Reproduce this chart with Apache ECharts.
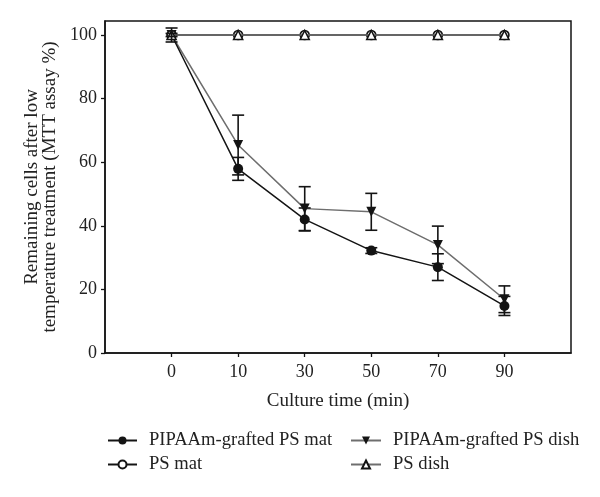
<!DOCTYPE html>
<html>
<head>
<meta charset="utf-8">
<script src="https://cdn.jsdelivr.net/npm/echarts@6/dist/echarts.min.js"></script>
<style>html,body{margin:0;padding:0;background:#fff}#c{width:600px;height:497px}</style>
</head>
<body>
<div id="c"></div>
<script>
var categories = [' ', '0', '10', '30', '50', '70', '90', '  '];
var times = ['0', '10', '30', '50', '70', '90'];
var yTicks = [0, 20, 40, 60, 80, 100];

var matGrafted = [100, 57.9, 42.0, 32.2, 27.0, 14.8];
var matGraftedErr = [2.2, 3.6, 3.6, 0.9, 4.2, 3.0];
var dishGrafted = [100, 65.4, 45.4, 44.4, 34.0, 16.9];
var dishGraftedErr = [0.5, 9.4, 6.9, 5.8, 5.9, 4.2];
var psMat = [100, 100, 100, 100, 100, 100];
var psDish = [100, 100, 100, 100, 100, 100];

var FONT = 'Liberation Serif';
var DARK = '#141414';
var GRAY = '#6e6e6e';
var TXT = '#222';

function pts(vals) {
  return times.map(function (t, i) { return [t, vals[i]]; });
}
function errPts(vals, errs) {
  return times.map(function (t, i) {
    return [categories.indexOf(t), vals[i] - errs[i], vals[i] + errs[i]];
  });
}
function errRender(params, api) {
  var x = api.value(0);
  var lo = api.coord([x, api.value(1)]);
  var hi = api.coord([x, api.value(2)]);
  var w = 6;
  var st = { stroke: DARK, lineWidth: 1.6 };
  return {
    type: 'group',
    children: [
      { type: 'line', shape: { x1: lo[0], y1: lo[1], x2: hi[0], y2: hi[1] }, style: st },
      { type: 'line', shape: { x1: lo[0] - w, y1: lo[1], x2: lo[0] + w, y2: lo[1] }, style: st },
      { type: 'line', shape: { x1: hi[0] - w, y1: hi[1], x2: hi[0] + w, y2: hi[1] }, style: st }
    ]
  };
}

var legendText = { fontFamily: FONT, fontSize: 18.6, color: TXT, padding: [0, 0, 0, 7] };

var chart = echarts.init(document.getElementById('c'), null, { renderer: 'canvas' });
chart.setOption({
  animation: false,
  backgroundColor: '#fff',
  textStyle: { fontFamily: FONT },
  grid: { left: 105, right: 29, top: 21, bottom: 144, show: true, borderColor: DARK, borderWidth: 1.5, backgroundColor: 'transparent' },
  xAxis: {
    type: 'category',
    data: categories,
    boundaryGap: false,
    name: 'Culture time (min)',
    nameLocation: 'middle',
    nameGap: 39,
    nameTextStyle: { fontFamily: FONT, fontSize: 19, color: TXT },
    axisLine: { lineStyle: { color: DARK, width: 1.5 } },
    axisTick: { length: 4, lineStyle: { color: DARK, width: 1.3 }, interval: function (i, v) { return v.trim() !== ''; } },
    axisLabel: { fontFamily: FONT, fontSize: 18, color: TXT, margin: 10, interval: 0 },
    splitLine: { show: false }
  },
  yAxis: {
    type: 'value',
    min: 0,
    max: 104.4,
    interval: 20,
    name: 'Remaining cells after low\ntemperature treatment (MTT assay %)',
    nameLocation: 'middle',
    nameGap: 46,
    nameTextStyle: { fontFamily: FONT, fontSize: 19, color: TXT, lineHeight: 17.5 },
    axisLine: { show: true, lineStyle: { color: DARK, width: 1.5 } },
    axisTick: { show: true, length: 4, lineStyle: { color: DARK, width: 1.3 }, customValues: yTicks },
    axisLabel: { fontFamily: FONT, fontSize: 18, color: TXT, margin: 8, customValues: yTicks },
    splitLine: { show: false }
  },
  legend: [
    {
      orient: 'vertical', left: 107, top: 431, padding: 0, itemWidth: 29, itemHeight: 10, itemGap: 5,
      textStyle: legendText,
      data: ['PIPAAm-grafted PS mat', 'PS mat']
    },
    {
      orient: 'vertical', left: 350, top: 431, padding: 0, itemWidth: 30, itemHeight: 10, itemGap: 5,
      textStyle: legendText,
      data: ['PIPAAm-grafted PS dish', 'PS dish']
    }
  ],
  series: [
    {
      name: 'PIPAAm-grafted PS dish', type: 'line', data: pts(dishGrafted), symbol: 'triangle', symbolRotate: 180, symbolSize: 10,
      lineStyle: { color: GRAY, width: 1.5 }, itemStyle: { color: DARK }, z: 2
    },
    {
      name: 'PIPAAm-grafted PS mat', type: 'line', data: pts(matGrafted), symbol: 'circle', symbolSize: 10,
      lineStyle: { color: DARK, width: 1.5 }, itemStyle: { color: DARK }, z: 3
    },
    {
      name: 'PS mat', type: 'line', data: pts(psMat), symbol: 'circle', symbolSize: 9,
      lineStyle: { color: DARK, width: 1.5 }, itemStyle: { color: '#fff', borderColor: DARK, borderWidth: 1.6 }, z: 4
    },
    {
      name: 'PS dish', type: 'line', data: pts(psDish), symbol: 'triangle', symbolSize: 9,
      lineStyle: { color: GRAY, width: 1.5 }, itemStyle: { color: '#fff', borderColor: DARK, borderWidth: 1.6 }, z: 5
    },
    { type: 'custom', data: errPts(dishGrafted, dishGraftedErr), renderItem: errRender, z: 6, silent: true },
    { type: 'custom', data: errPts(matGrafted, matGraftedErr), renderItem: errRender, z: 6, silent: true }
  ]
});
</script>
</body>
</html>
